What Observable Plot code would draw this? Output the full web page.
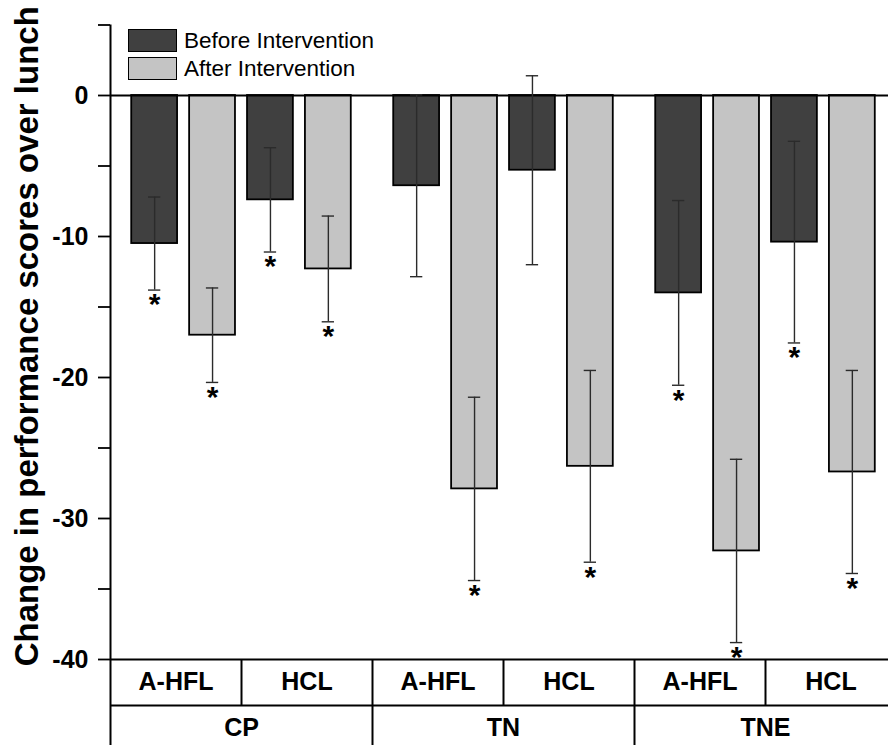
<!DOCTYPE html>
<html>
<head>
<meta charset="utf-8">
<script src="https://cdn.jsdelivr.net/npm/d3@7"></script>
<script src="https://cdn.jsdelivr.net/npm/@observablehq/plot@0.6"></script>
<style>
  body { margin: 0; background: #fff; }
  #wrap { position: relative; width: 888px; height: 745px; overflow: hidden; font-family: "Liberation Sans", Arial, sans-serif; }
  .sw { position: absolute; width: 49px; height: 23px; box-sizing: border-box; border: 1.8px solid #000; }
  .lt { position: absolute; font-size: 22.5px; line-height: 23px; color: #000; white-space: nowrap; }
</style>
</head>
<body>
<div id="wrap"></div>
<script>
// ---- data ----
const groups = ["CP", "TN", "TNE"];
const subgroups = ["A-HFL", "HCL"];
const phases = ["Before Intervention", "After Intervention"];
// order: CP A-HFL, CP HCL, TN A-HFL, TN HCL, TNE A-HFL, TNE HCL
const beforeMean = [-10.5, -7.4, -6.4, -5.3, -14.0, -10.4];
const beforeErr  = [3.3, 3.7, 6.45, 6.7, 6.55, 7.15];
const afterMean  = [-17.0, -12.3, -27.9, -26.3, -32.3, -26.7];
const afterErr   = [3.35, 3.75, 6.5, 6.8, 6.5, 7.2];
const beforeSig  = [true, true, false, false, true, true];
const afterSig   = [true, true, true, true, true, true];
const yTicks = [5, 0, -5, -10, -15, -20, -25, -30, -35, -40];
const yLabel = "Change in performance scores over lunch";
const colors = ["#404040", "#c4c4c4"];

// ---- layout helpers (position slots in x units) ----
const slot = [-0.663, -0.221, 0.221, 0.663];
const halfBar = 0.175, halfCap = 0.047;
const row1 = -43.26, rowBottom = -48, subLabelY = -41.63, groupLabelY = -44.86;

const rows = [];
groups.forEach((g, gi) => subgroups.forEach((s, si) => phases.forEach((p, pi) => {
  const i = gi * 2 + si;
  rows.push({
    group: g, sub: s, phase: p,
    xc: gi * 2 + 1 + slot[si * 2 + pi],
    mean: pi === 0 ? beforeMean[i] : afterMean[i],
    err: pi === 0 ? beforeErr[i] : afterErr[i],
    sig: pi === 0 ? beforeSig[i] : afterSig[i]
  });
})));
const caps = rows.flatMap(d => [{xc: d.xc, y: d.mean + d.err}, {xc: d.xc, y: d.mean - d.err}]);
const subCells = groups.flatMap((g, gi) => subgroups.map((s, si) => ({label: s, x: gi * 2 + si + 0.5})));
const groupCells = groups.map((g, gi) => ({label: g, x: gi * 2 + 1}));

const chart = Plot.plot({
  width: 888, height: 745,
  marginLeft: 110, marginRight: 0, marginTop: 24.5, marginBottom: 86,
  style: {fontFamily: '"Liberation Sans", Arial, sans-serif', color: "#000", background: "#fff"},
  x: {domain: [0, 6], range: [110, 896], axis: null},
  y: {domain: [-40, 5], axis: null},
  color: {domain: phases, range: colors},
  marks: [
    Plot.rect(rows, {x1: d => d.xc - halfBar, x2: d => d.xc + halfBar, y1: 0, y2: "mean", fill: "phase", stroke: "#000", strokeWidth: 1.8}),
    Plot.ruleY([0], {x1: 0, x2: 6, stroke: "#000", strokeWidth: 2}),
    Plot.ruleX(rows, {x: "xc", y1: d => d.mean + d.err, y2: d => d.mean - d.err, stroke: "#2b2b2b", strokeWidth: 1.4}),
    Plot.ruleY(caps, {y: "y", x1: d => d.xc - halfCap, x2: d => d.xc + halfCap, stroke: "#2b2b2b", strokeWidth: 1.4}),
    Plot.text(rows.filter(d => d.sig), {x: "xc", y: d => d.mean - d.err, text: () => "*", lineAnchor: "top", dy: 3, fontSize: 30, fontWeight: "bold", fill: "#000"}),
    // y axis
    Plot.axisY({ticks: yTicks, tickSize: 12, tickPadding: 10, tickFormat: d => d % 10 === 0 ? String(d) : "", fontSize: 25, fontWeight: "bold", stroke: "#000", strokeWidth: 1.8, label: null}),
    Plot.ruleX([0], {y1: 5, y2: rowBottom, stroke: "#000", strokeWidth: 2}),
    Plot.text([yLabel], {frameAnchor: "left", textAnchor: "middle", rotate: -90, dx: -73, dy: -6, lineAnchor: "bottom", fontSize: 33, fontWeight: "bold", fill: "#000"}),
    // category table
    Plot.ruleY([-40, row1], {x1: 0, x2: 6, stroke: "#000", strokeWidth: 2}),
    Plot.ruleX(groupCells, {x: "x", y1: -40, y2: row1, stroke: "#000", strokeWidth: 2}),
    Plot.ruleX([2, 4], {y1: -40, y2: rowBottom, stroke: "#000", strokeWidth: 2}),
    Plot.text(subCells, {x: "x", y: subLabelY, text: "label", fontSize: 25, fontWeight: "bold", fill: "#000"}),
    Plot.text(groupCells, {x: "x", y: groupLabelY, text: "label", fontSize: 25, fontWeight: "bold", fill: "#000"})
  ]
});
const wrap = document.getElementById("wrap");
wrap.appendChild(chart);

// legend
phases.forEach((p, i) => {
  const sw = document.createElement("div");
  sw.className = "sw";
  sw.style.left = "128px"; sw.style.top = (29 + i * 28) + "px";
  sw.style.background = colors[i];
  wrap.appendChild(sw);
  const t = document.createElement("div");
  t.className = "lt";
  t.style.left = "184px"; t.style.top = (29 + i * 28) + "px";
  t.textContent = p;
  wrap.appendChild(t);
});
</script>
</body>
</html>
